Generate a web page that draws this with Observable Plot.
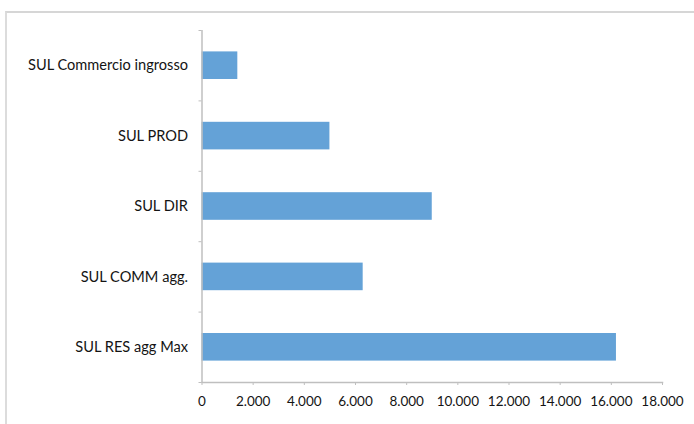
<!DOCTYPE html>
<html>
<head>
<meta charset="utf-8">
<script src="https://cdn.jsdelivr.net/npm/d3@7"></script>
<script src="https://cdn.jsdelivr.net/npm/@observablehq/plot@0.6"></script>
<style>
  html, body { margin: 0; padding: 0; background: #fff; }
  #wrap { position: relative; width: 694px; height: 424px; overflow: hidden; }
  #frame { position: absolute; left: 5px; top: 11px; right: -10px; bottom: -10px;
           border-top: 2px solid #d6d6d6; border-left: 2px solid #dcdcdc; }
  #chart { position: absolute; left: 0; top: 0; }
</style>
</head>
<body>
<div id="wrap"><div id="frame"></div><div id="chart"></div></div>
<script>
const categories = ["SUL Commercio ingrosso", "SUL PROD", "SUL DIR", "SUL COMM agg.", "SUL RES agg Max"];
const values = [1400, 5000, 9000, 6300, 16200];
const xTicks = [0, 2000, 4000, 6000, 8000, 10000, 12000, 14000, 16000, 18000];

const data = categories.map((name, i) => ({name, value: values[i], idx: i}));
const fmt = d3.formatLocale({decimal: ",", thousands: ".", grouping: [3], currency: ["", "€"]}).format(",d");
const bounds = d3.range(categories.length + 1);
const centers = d3.range(categories.length).map(i => i + 0.5);
const axisColor = "#bfbfbf";
const textColor = "#141414";

const chart = Plot.plot({
  width: 694,
  height: 424,
  marginLeft: 201.5,
  marginRight: 32,
  marginTop: 30,
  marginBottom: 42,
  x: {domain: [0, 18000]},
  y: {domain: [categories.length, 0]},
  style: {fontFamily: "Lato, 'Open Sans', sans-serif", fontSize: "13px", color: textColor, background: "transparent"},
  marks: [
    Plot.rectX(data, {x1: 0, x2: "value", y1: d => d.idx, y2: d => d.idx + 1, insetTop: 21.4, insetBottom: 21.4, fill: "#64a2d7"}),
    Plot.ruleX([0], {stroke: axisColor, strokeWidth: 1.5}),
    Plot.frame({anchor: "bottom", stroke: axisColor, strokeWidth: 1.5}),
    Plot.axisX({ticks: xTicks, tickFormat: fmt, tickSize: 3, tickPadding: 11, stroke: axisColor, fill: textColor, fontSize: 13.5, label: null}),
    Plot.axisY({ticks: bounds, tickFormat: () => "", tickSize: 3, stroke: axisColor, label: null}),
    Plot.axisY({ticks: centers, tickFormat: v => categories[Math.floor(v)], tickSize: 0, tickPadding: 14, fill: textColor, fontSize: 14.6, label: null})
  ]
});
document.getElementById("chart").appendChild(chart);
</script>
</body>
</html>
